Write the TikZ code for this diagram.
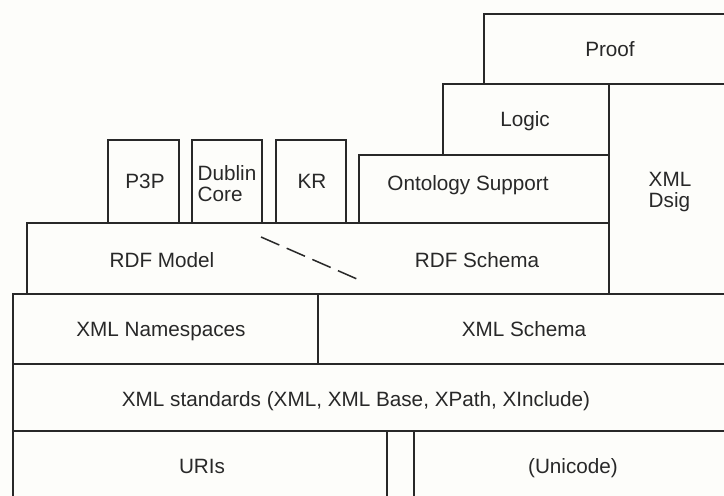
\documentclass[tikz,border=0pt]{standalone}
\usepackage{fontspec}
\setmainfont{Liberation Sans}
\definecolor{bg}{RGB}{253,253,250}
\definecolor{ink}{RGB}{40,40,40}
\begin{document}
\begin{tikzpicture}[x=1pt,y=-1pt,
  box/.style={draw=ink,line width=1.5pt},
  lbl/.style={text=ink,font=\fontsize{20.7}{21}\selectfont,inner sep=0pt,text depth=0pt},
  lbl2/.style={text=ink,font=\fontsize{20.7}{21}\selectfont,inner sep=0pt,align=left}]
\useasboundingbox (0,0) rectangle (724,496);
\fill[bg] (0,0) rectangle (724,496);
\clip (0,0) rectangle (724,496);
% boxes
\draw[box] (484,14) rectangle (740,84);
\draw[box] (443,84) rectangle (609,155);
\draw[box] (609,84) rectangle (740,294);
\draw[box] (359,155) rectangle (609,223);
\draw[box] (108,140) rectangle (179,223);
\draw[box] (192,140) rectangle (262,223);
\draw[box] (276,140) rectangle (346,223);
\draw[box] (27,223) rectangle (609,294);
\draw[box] (13,294) rectangle (318,364);
\draw[box] (318,294) rectangle (740,364);
\draw[box] (13,364) rectangle (740,431);
\draw[box] (13,431) rectangle (387,510);
\draw[box] (414,431) rectangle (740,510);
% labels
\node[lbl] (proof) at (610,49) {Proof};
\node[lbl] (logic) at (525,119) {Logic};
\node[lbl] (onto) at (468,183) {Ontology Support};
\node[lbl2] (dsig) at (670,192) {XML\\Dsig};
\node[lbl] (p3p) at (145,181) {P3P};
\node[lbl2] (dublin) at (227,184) {Dublin\\Core};
\node[lbl] (kr) at (312,181) {KR};
\node[lbl] (rdfm) at (162,260) {RDF Model};
\node[lbl] (rdfs) at (477,260) {RDF Schema};
\node[lbl] (ns) at (161,329) {XML Namespaces};
\node[lbl] (xsd) at (524,329) {XML Schema};
\node[lbl] (std) at (356,399) {XML standards (XML, XML Base, XPath, XInclude)};
\node[lbl] (uri) at (202,466) {URIs};
\node[lbl] (uni) at (573,466) {(Unicode)};
% dashed divider
\coordinate (d1) at (261,237);
\coordinate (d2) at (357,279);
\draw[ink,line width=1.5pt,dash pattern=on 20pt off 8pt] (d1) -- (d2);
\end{tikzpicture}
\end{document}
